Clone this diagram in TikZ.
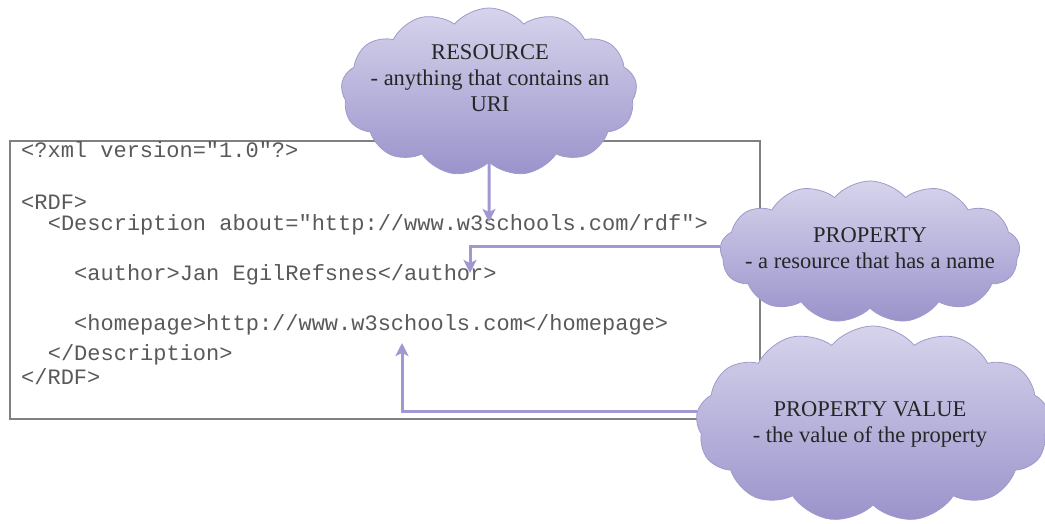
\documentclass[tikz,border=0pt]{standalone}
\usepackage{fontspec}
\setmainfont{Liberation Serif}
\setmonofont{Liberation Mono}
\usetikzlibrary{shapes.symbols,arrows.meta}

\definecolor{cloudtop}{RGB}{214,212,236}
\definecolor{cloudbot}{RGB}{154,147,203}
\definecolor{cloudline}{RGB}{160,154,202}
\definecolor{linkcol}{RGB}{160,152,210}

\begin{document}
\begin{tikzpicture}[x=1pt,y=-1pt]
  \tikzstyle{codebox}=[draw=black!50, line width=1.6pt, minimum width=750pt, minimum height=278pt, inner sep=0pt]
  \tikzstyle{codeline}=[anchor=mid west, inner sep=0pt, font=\ttfamily\fontsize{22}{26}\selectfont, text=black!65]
  \tikzstyle{concept}=[cloud, cloud puffs=13, cloud puff arc=100, cloud ignores aspect, draw=cloudline, line width=0.8pt, top color=cloudtop, bottom color=cloudbot, inner sep=0pt]
  \tikzstyle{cloudtext}=[align=center, font=\fontsize{22.5}{26}\selectfont, text=black!85]
  \tikzstyle{link}=[draw=linkcol, line width=3pt, -{Stealth[length=13pt,width=13pt,inset=3pt]}]

  \useasboundingbox (0,0) rectangle (1045,524);

  % the rdf listing
  \node (code) at (385,280) [codebox] {};
  \node (xml) at (21,155) [codeline] {<?xml version="1.0"?>};
  \node (rdf) at (21,207) [codeline] {<RDF>};
  \node (desc) at (47.6,228) [codeline] {<Description about="http://www.w3schools.com/rdf">};
  \node (author) at (74,278) [codeline] {<author>Jan EgilRefsnes</author>};
  \node (home) at (74,328) [codeline] {<homepage>http://www.w3schools.com</homepage>};
  \node (enddesc) at (47.6,358) [codeline] {</Description>};
  \node (endrdf) at (21,382) [codeline] {</RDF>};

  % clouds
  \node (res) at (489,92) [concept, minimum width=296pt, minimum height=168pt] {};
  \node (restext) at (490,78) [cloudtext] {RESOURCE\\- anything that contains an\\URI};
  \node (prop) at (870,252) [concept, minimum width=300pt, minimum height=142pt] {};
  \node (proptext) at (870,248) [cloudtext] {PROPERTY\\- a resource that has a name};
  \node (val) at (873,424) [concept, minimum width=354pt, minimum height=196pt] {};
  \node (valtext) at (870,424) [cloudtext] {PROPERTY VALUE\\- the value of the property};

  \coordinate (restip) at (489,222);
  \coordinate (authtip) at (470,273);
  \coordinate (hometip) at (402,343);

  \draw[link] (res.south) -- (restip);
  \draw[link] (prop.178) -| (authtip);
  \draw[link] (val.176) -| (hometip);
\end{tikzpicture}
\end{document}
